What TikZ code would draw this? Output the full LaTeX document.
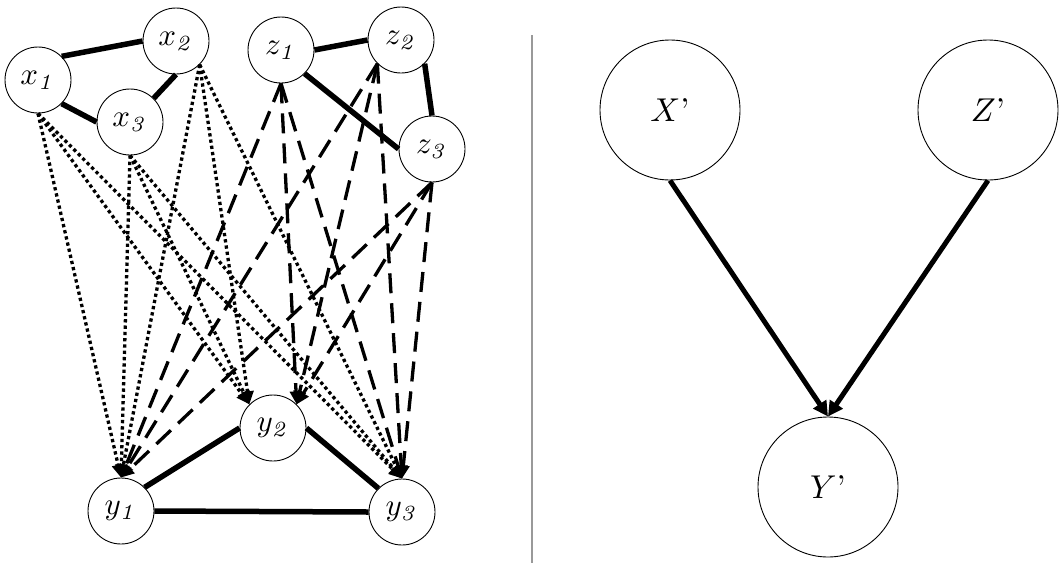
\documentclass[tikz,border=0pt]{standalone}
\usepackage{graphicx}
\usetikzlibrary{arrows.meta}
\newcommand{\smlbl}[1]{\scalebox{3.1}{#1}}
\newcommand{\biglbl}[1]{\scalebox{3.3}{#1}}
\begin{document}
\begin{tikzpicture}[x=1pt,y=-1pt,
  vnode/.style={circle,draw,fill=white,line width=0.9pt,minimum size=66pt,inner sep=0pt},
  bignode/.style={circle,draw,fill=white,line width=0.9pt,minimum size=140pt,inner sep=0pt},
  undir/.style={line width=5.5pt},
  dotarrow/.style={line width=3.3pt,dash pattern=on 3.3pt off 3pt,-{Triangle[length=13pt,width=12pt]}},
  dasharrow/.style={line width=3.3pt,dash pattern=on 20pt off 10pt,-{Triangle[length=13pt,width=12pt]}},
  mainarrow/.style={line width=5pt,-{Triangle[length=15pt,width=15pt]}},
  sepline/.style={line width=1.5pt,draw=gray!80}
]
\useasboundingbox (0,0) rectangle (1063,566);

% left graph nodes
\node[vnode] (x1) at (38,80) {\smlbl{$x_{\mathit{1}}$}};
\node[vnode] (x2) at (176,41) {\smlbl{$x_{\mathit{2}}$}};
\node[vnode] (x3) at (130,122) {\smlbl{$x_{\mathit{3}}$}};
\node[vnode] (z1) at (281,50) {\smlbl{$z_{\mathit{1}}$}};
\node[vnode] (z2) at (401,40) {\smlbl{$z_{\mathit{2}}$}};
\node[vnode] (z3) at (432,149) {\smlbl{$z_{\mathit{3}}$}};
\node[vnode] (y1) at (121,511) {\smlbl{$y_{\mathit{1}}$}};
\node[vnode] (y2) at (273,428) {\smlbl{$y_{\mathit{2}}$}};
\node[vnode] (y3) at (402,512) {\smlbl{$y_{\mathit{3}}$}};

% undirected thick edges
\draw[undir] (x1.north east) -- (x2.west);
\draw[undir] (x1.south east) -- (x3.west);
\draw[undir] (x2.south) -- (x3.north east);
\draw[undir] (z1.east) -- (z2.west);
\draw[undir] (z1.south east) -- (z3.west);
\draw[undir] (z2.south east) -- (z3.north);
\draw[undir] (y1.north east) -- (y2.west);
\draw[undir] (y2.east) -- (y3.north west);
\draw[undir] (y1.east) -- (y3.west);

% dotted arrows x -> y
\foreach \s in {x1.south, x2.south east, x3.south}{
  \draw[dotarrow] (\s) -- (y1.north);
  \draw[dotarrow] (\s) -- (y2.north west);
  \draw[dotarrow] (\s) -- (y3.north);
}
% dashed arrows z -> y
\foreach \s in {z1.south, z2.south west, z3.south}{
  \draw[dasharrow] (\s) -- (y1.north);
  \draw[dasharrow] (\s) -- (y2.north east);
  \draw[dasharrow] (\s) -- (y3.north);
}

% separator
\coordinate (s1) at (532,35);
\coordinate (s2) at (532,563);
\draw[sepline] (s1) -- (s2);

% right graph
\node[bignode] (Xp) at (670,110) {\biglbl{$X$’}};
\node[bignode] (Zp) at (988,110) {\biglbl{$Z$’}};
\node[bignode] (Yp) at (828,487) {\biglbl{$Y$’}};
\draw[mainarrow] (Xp.south) -- (Yp.north);
\draw[mainarrow] (Zp.south) -- (Yp.north);
\end{tikzpicture}
\end{document}
